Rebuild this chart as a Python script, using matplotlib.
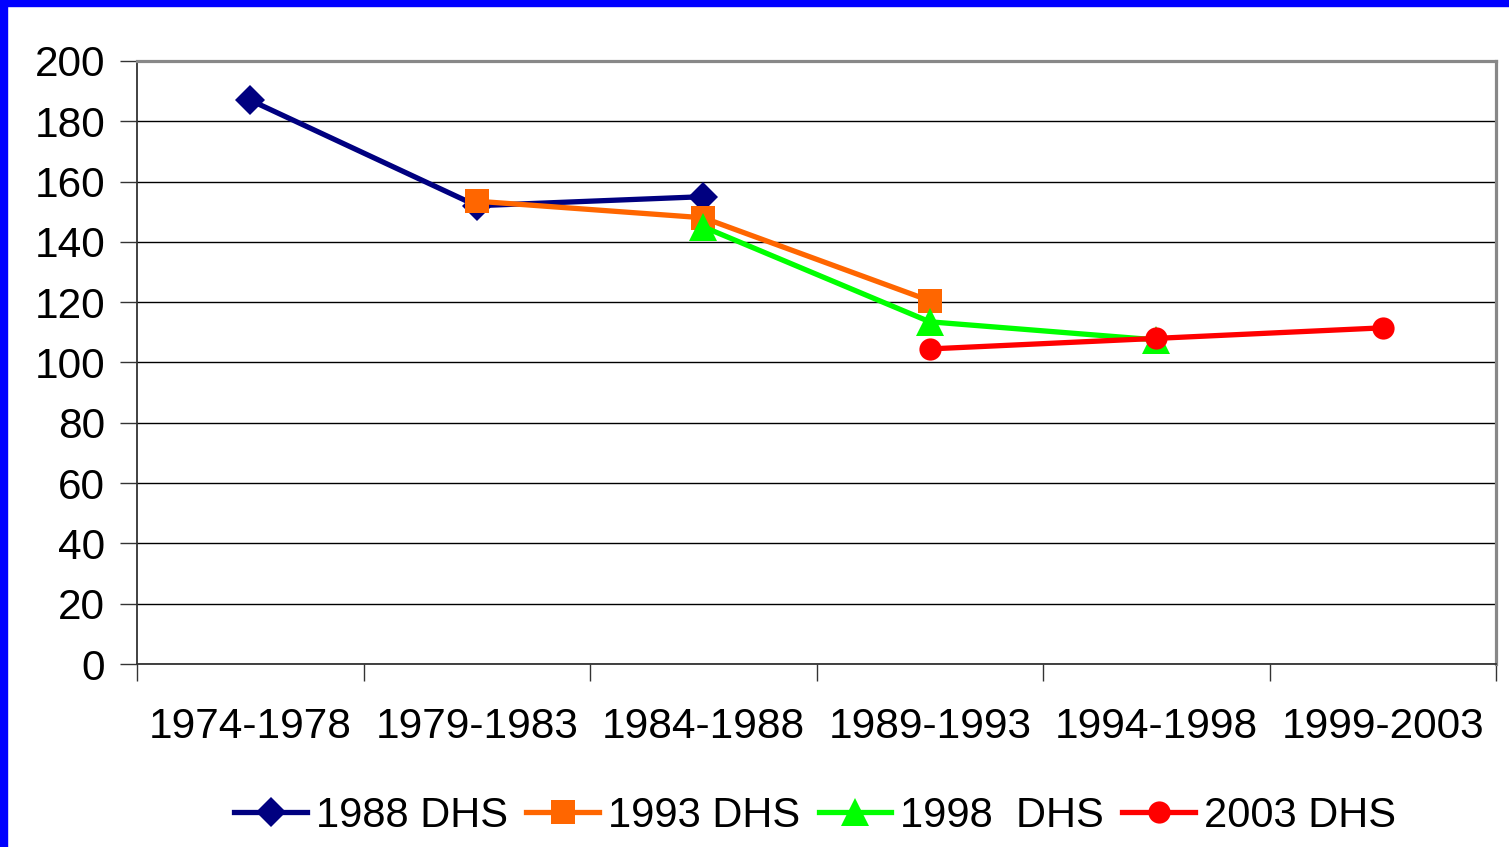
import matplotlib
matplotlib.use("Agg")
import matplotlib.pyplot as plt
from matplotlib.patches import Rectangle
from matplotlib.lines import Line2D
import numpy as np

plt.rcParams['font.family'] = ['Liberation Sans', 'DejaVu Sans']

categories = ["1974-1978", "1979-1983", "1984-1988", "1989-1993", "1994-1998", "1999-2003"]
yticks = [0, 20, 40, 60, 80, 100, 120, 140, 160, 180, 200]

s1988_idx = [0, 1, 2]
s1988 = [187, 152, 155]
s1993_idx = [1, 2, 3]
s1993 = [153.5, 148, 120.5]
s1998_idx = [2, 3, 4]
s1998 = [145, 113.5, 107.5]
s2003_idx = [3, 4, 5]
s2003 = [104.5, 108, 111.5]

labels = ["1988 DHS", "1993 DHS", "1998  DHS", "2003 DHS"]
colors = ["#000080", "#FF6600", "#00FF00", "#FF0000"]
markers = ["D", "s", "^", "o"]
msizes = [15, 17.5, 20, 16]

W, H = 1509, 847
fig = plt.figure(figsize=(W/100, H/100), dpi=100)
fig.patch.set_facecolor("white")

L, R, T, B = 137, 1496, 61, 664
ax = fig.add_axes([L/W, (H-B)/H, (R-L)/W, (B-T)/H])

series = [(s1988_idx, s1988), (s1993_idx, s1993), (s1998_idx, s1998), (s2003_idx, s2003)]
for (idx, vals), c, m, ms in zip(series, colors, markers, msizes):
    ax.plot(np.array(idx) + 0.5, vals, color=c, lw=3.8, marker=m, markersize=ms,
            markeredgewidth=0, solid_joinstyle='round', solid_capstyle='round', zorder=3)

ax.set_xlim(0, len(categories))
ax.set_ylim(0, 200)
ax.set_yticks(yticks)
ax.set_yticklabels([str(v) for v in yticks], fontsize=30.5)
ax.set_xticks(np.arange(len(categories) + 1))
ax.set_xticklabels([])
ax.set_xticks(np.arange(len(categories)) + 0.5, minor=True)
ax.set_xticklabels(categories, minor=True, fontsize=30.5)
ax.tick_params(axis='x', which='minor', length=0, pad=31)
ax.tick_params(axis='x', which='major', length=12, width=1, color='#333333', direction='out')
ax.tick_params(axis='y', length=12, width=1, color='#333333', pad=11)

ax.yaxis.grid(True, color='black', lw=1)
ax.set_axisbelow(True)
for side in ['top', 'right']:
    ax.spines[side].set_color('#888888')
    ax.spines[side].set_linewidth(2.3)
for side in ['left', 'bottom']:
    ax.spines[side].set_color('#333333')
    ax.spines[side].set_linewidth(1.3)

handles = [Line2D([], [], color=c, lw=3.8, marker=m, markersize=ms, markeredgewidth=0)
           for c, m, ms in zip(colors, markers, msizes)]
fig.legend(handles, labels, loc='center', bbox_to_anchor=(815/W, 1 - 816/H), ncol=4,
           frameon=False, fontsize=30, handlelength=1.75, handletextpad=0.2,
           columnspacing=0.45)

fig.patches.append(Rectangle((0, 0), 7/W, 1, transform=fig.transFigure, color='#0000FF', zorder=10))
fig.patches.append(Rectangle((0, 1 - 6/H), 1, 6/H, transform=fig.transFigure, color='#0000FF', zorder=10))

fig.savefig("out.png", dpi=100)
